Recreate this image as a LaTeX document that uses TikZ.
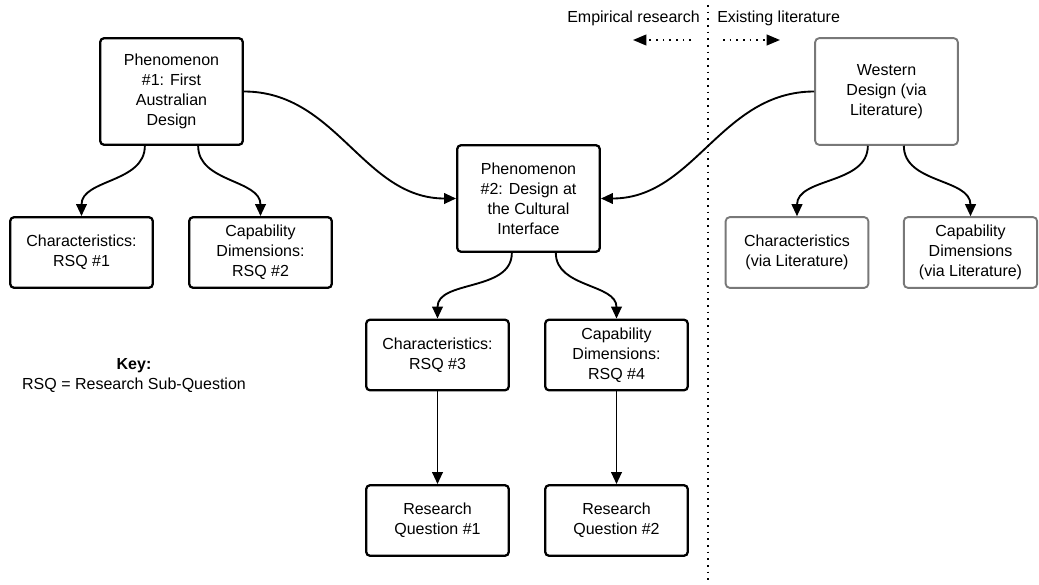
\documentclass[tikz,border=0pt]{standalone}
\usepackage{fontspec}
\setmainfont{Liberation Sans}
\usetikzlibrary{arrows.meta}

\tikzset{
  phenbox/.style={draw, line width=1.7pt, rounded corners=3pt, align=center,
    minimum width=107pt, minimum height=80pt, inner sep=2pt},
  subbox/.style={phenbox, minimum height=53pt},
  litbox/.style={draw={rgb,255:red,120;green,120;blue,120}, line width=1.4pt,
    rounded corners=3pt, align=center, minimum width=107pt, minimum height=53pt, inner sep=2pt},
  link/.style={line width=1.4pt, -{Triangle[length=9pt,width=8pt]}},
  dotline/.style={line width=1.4pt, dash pattern=on 1.2pt off 3.8pt},
}

\begin{document}
\begin{tikzpicture}[x=0.75pt,y=0.75pt,yscale=-1,font=\fontsize{12}{15}\selectfont]
\useasboundingbox (0,0) rectangle (1039,585);

%Boxes: empirical side
\node [phenbox] (phenA) at (171.5,91.5) {Phenomenon\\\#1: First\\Australian\\Design};
\node [subbox] (charA) at (81.5,252.5) {Characteristics:\\RSQ \#1};
\node [subbox] (capA) at (260.5,252.5) {Capability\\Dimensions:\\RSQ \#2};
\node [phenbox] (phenB) at (528.5,198.5) {Phenomenon\\\#2: Design at\\the Cultural\\Interface};
\node [subbox] (charB) at (437.5,355) {Characteristics:\\RSQ \#3};
\node [subbox] (capB) at (616.5,355) {Capability\\Dimensions:\\RSQ \#4};
\node [subbox] (rqA) at (437.5,520.5) {Research\\Question \#1};
\node [subbox] (rqB) at (616.5,520.5) {Research\\Question \#2};

%Boxes: literature side
\node [litbox, minimum height=80pt] (west) at (886.5,91.5) {Western\\Design (via\\Literature)};
\node [litbox] (charL) at (797,252.5) {Characteristics\\(via Literature)};
\node [litbox, minimum width=100pt] (capL) at (970.5,252.5) {Capability\\Dimensions\\(via Literature)};

%Curve Lines
\draw [link] ([xshift=-20pt]phenA.south) to[out=90,in=-90] (charA.north);
\draw [link] ([xshift=20pt]phenA.south) to[out=90,in=-90] (capA.north);
\draw [link] (phenA.east) to[out=0,in=180] (phenB.west);
\draw [link] (west.west) to[out=180,in=0] (phenB.east);
\draw [link] ([xshift=-12.5pt]phenB.south) to[out=90,in=-90] (charB.north);
\draw [link] ([xshift=20.5pt]phenB.south) to[out=90,in=-90] (capB.north);
\draw [link] ([xshift=-14pt]west.south) to[out=90,in=-90] (charL.north);
\draw [link] ([xshift=13pt]west.south) to[out=90,in=-90] (capL.north);

%Straight Lines
\draw [link] (charB) -- (rqA);
\draw [link] (capB) -- (rqB);

%Divider and side labels
\coordinate (divtop) at (708,5);
\coordinate (divbot) at (708,585);
\draw [dotline] (divtop) -- (divbot);
\node [anchor=east, inner sep=0.75pt] (empir) at (701,18) {Empirical research};
\node [anchor=west, inner sep=0.75pt] (exist) at (716,18) {Existing literature};
\coordinate (empA) at (691,40);
\coordinate (empB) at (633,40);
\coordinate (extA) at (723,40);
\coordinate (extB) at (780,40);
\draw [dotline, -{Triangle[length=10pt,width=8pt]}] (empA) -- (empB);
\draw [dotline, -{Triangle[length=10pt,width=8pt]}] (extA) -- (extB);

% Text Node
\node [align=center, inner sep=0.75pt] (key) at (134,376) {\textbf{Key:}\\RSQ = Research Sub-Question};

\end{tikzpicture}
\end{document}
